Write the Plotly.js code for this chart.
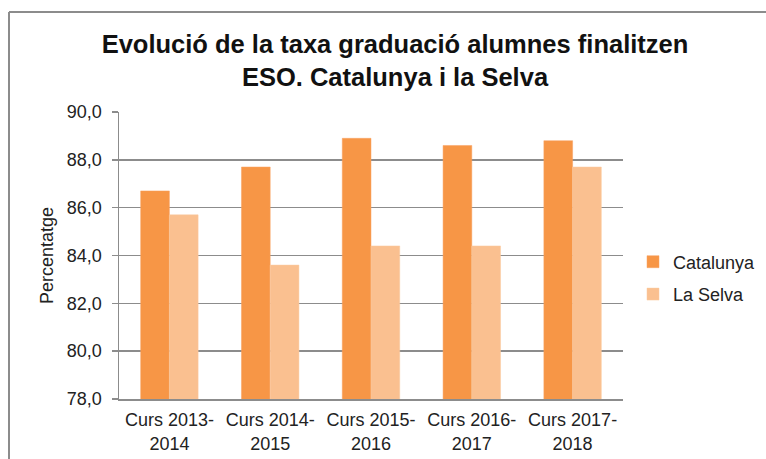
<!DOCTYPE html>
<html>
<head>
<meta charset="utf-8">
<script src="https://cdn.plot.ly/plotly-3.0.1.min.js"></script>
<style>html,body{margin:0;padding:0;background:#fff;}#chart{width:766px;height:459px;}</style>
</head>
<body>
<div id="chart"></div>
<script>
var categories = ["Curs 2013-<br>2014", "Curs 2014-<br>2015", "Curs 2015-<br>2016", "Curs 2016-<br>2017", "Curs 2017-<br>2018"];
var catalunya = [86.7, 87.7, 88.9, 88.6, 88.8];
var laSelva = [85.7, 83.6, 84.4, 84.4, 87.7];
var seriesNames = ["Catalunya", "La Selva"];
var yTicks = [78, 80, 82, 84, 86, 88, 90];

var L = 119, R = 143, T = 112, B = 60, W = 766, H = 459;
var pw = W - L - R, ph = H - T - B;
function px(x) { return (x - L) / pw; }
function py(y) { return (H - B - y) / ph; }

var font = "Liberation Sans, Arial, sans-serif";
var gray = "#8c8c8c";

var traces = [
  {type: "bar", name: seriesNames[0], x: categories, y: catalunya, legendgroup: "a",
   marker: {color: "#F79646", line: {color: "#F8A060", width: 0.5}}},
  {type: "bar", name: seriesNames[1], x: categories, y: laSelva, legendgroup: "b",
   marker: {color: "#FAC090", line: {color: "#FBCBA0", width: 0.5}}}
];

var layout = {
  width: W, height: H,
  margin: {l: L, r: R, t: T, b: B, pad: 0, autoexpand: false},
  paper_bgcolor: "#fff", plot_bgcolor: "#fff",
  separators: ",.",
  font: {family: font, size: 18, color: "#222"},
  barmode: "group", bargap: 0.43, bargroupgap: 0,
  title: {
    text: "<b>Evolució de la taxa graduació alumnes finalitzen<br>ESO. Catalunya i la Selva</b>",
    font: {family: font, size: 25.5, color: "#111"},
    x: 395 / W, xanchor: "center", xref: "container",
    y: 1 - 53 / H, yanchor: "top", yref: "container"
  },
  xaxis: {
    showline: true, linecolor: gray, linewidth: 1.5,
    ticks: "", showgrid: false, ticklabelstandoff: 4,
    tickfont: {family: font, size: 18, color: "#222"}
  },
  yaxis: {
    range: [78, 90], tickvals: yTicks, tickformat: ".1f",
    showline: true, linecolor: gray, linewidth: 1.5,
    ticks: "outside", ticklen: 6, tickcolor: gray, tickwidth: 1.5,
    ticklabelstandoff: 6,
    showgrid: true, gridcolor: gray, gridwidth: 1.5,
    zeroline: false,
    tickfont: {family: font, size: 18, color: "#222"},
    title: {text: "Percentatge", font: {family: font, size: 18, color: "#222"}, standoff: 8}
  },
  legend: {
    x: px(633), xanchor: "left", y: py(278), yanchor: "middle",
    font: {family: font, size: 18, color: "#222"},
    traceorder: "grouped", tracegroupgap: 6,
    bgcolor: "rgba(0,0,0,0)"
  },
  shapes: [
    {type: "line", xref: "paper", yref: "paper", x0: px(9), x1: px(9), y0: py(470), y1: py(12),
     line: {color: gray, width: 2}},
    {type: "line", xref: "paper", yref: "paper", x0: px(9), x1: px(780), y0: py(12), y1: py(12),
     line: {color: gray, width: 2}}
  ]
};

Plotly.newPlot("chart", traces, layout, {displayModeBar: false, staticPlot: true});
</script>
</body>
</html>
